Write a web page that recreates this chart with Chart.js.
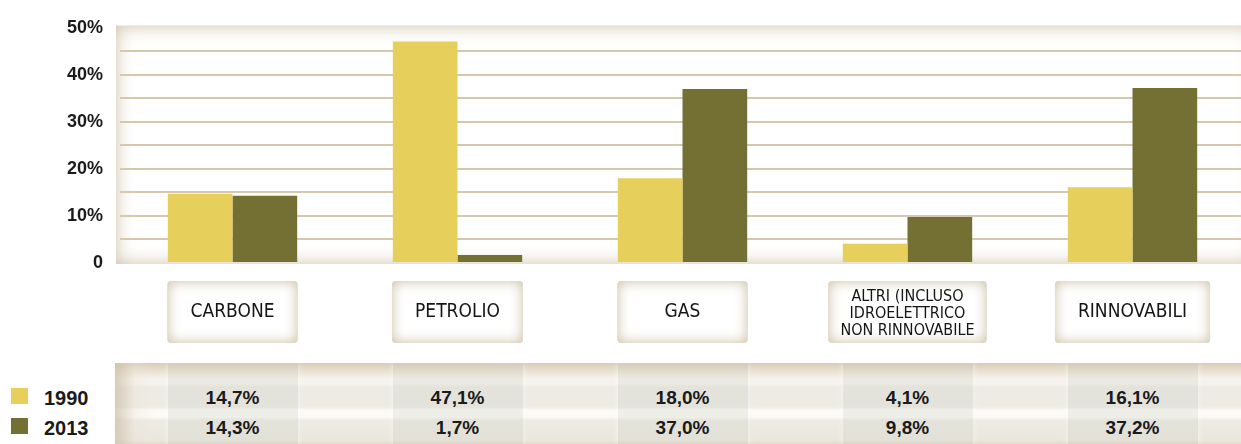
<!DOCTYPE html>
<html>
<head>
<meta charset="utf-8">
<script src="https://cdn.jsdelivr.net/npm/chart.js@4/dist/chart.umd.min.js"></script>
<style>
    html, body { margin: 0; padding: 0; background: #fff; width: 1241px; height: 444px; overflow: hidden; }
    #chartWrap { position: absolute; left: 0; top: 0; width: 1245px; height: 360px; }
    #table {
        position: absolute; left: 115px; top: 363px; width: 1130px; height: 84px; overflow: hidden;
        background: linear-gradient(to bottom,
            #d8ccb5 0px, #eae3d5 9px, #f6f3ed 16px, #f6f3ed 21px, #edebe4 24px, #edebe4 44px,
            #fbfaf7 47px, #fbfaf7 54px, #edebe4 57px, #ebe7df 77px, #dcd1bd 84px);
    }
    #table .edge {
        position: absolute; left: 0; top: 0; width: 40px; height: 100%;
        background: linear-gradient(to right, rgba(205,192,168,0.75), rgba(235,228,215,0.3) 20px, rgba(255,255,255,0) 40px);
    }
    .col {
        position: absolute; top: 0; height: 100%;
        background: rgba(196, 200, 188, 0.22);
        box-shadow: -2px 0 5px rgba(255,255,255,0.3), 2px 0 5px rgba(255,255,255,0.3);
    }
    .val, .leg {
        position: absolute; font-family: "Liberation Sans", Arial, sans-serif; font-weight: bold;
        color: #1a1a1a; white-space: nowrap;
    }
    .val { font-size: 19px; transform: translate(-50%, -50%); }
    .leg { font-size: 20px; left: 44px; transform: translateY(-50%); }
    .swatch { position: absolute; left: 11px; width: 17px; height: 16px; }
</style>
</head>
<body>
<div id="chartWrap"><canvas id="energyChart" width="1245" height="360"></canvas></div>
<div id="table"><div class="edge"></div></div>
<div id="legend"></div>
<script>
// dati
const categories = [
    ['CARBONE'],
    ['PETROLIO'],
    ['GAS'],
    ['ALTRI (INCLUSO', 'IDROELETTRICO', 'NON RINNOVABILE'],
    ['RINNOVABILI']
];
const years = ['1990', '2013'];
const values1990 = [14.7, 47.1, 18.0, 4.1, 16.1];
const values2013 = [14.3, 1.7, 37.0, 9.8, 37.2];
const yTickLabels = ['0', '10%', '20%', '30%', '40%', '50%'];

const colors = ['#e7cf5b', '#747034'];
const labelFont = '"Liberation Sans Narrow", "DejaVu Sans Condensed", "Roboto Condensed", "Liberation Sans", sans-serif';
const labelSize = lines => (lines.length > 1 ? 16 : 19);

function innerShadow(ctx, x, y, w, h, r, fill, shade, blur) {
    ctx.save();
    ctx.beginPath();
    ctx.roundRect(x, y, w, h, r);
    ctx.clip();
    ctx.fillStyle = fill;
    ctx.fillRect(x, y, w, h);
    ctx.beginPath();
    ctx.rect(x - 200, y - 200, w + 400, h + 400);
    ctx.roundRect(x, y, w, h, r);
    ctx.shadowColor = shade;
    ctx.shadowBlur = blur;
    ctx.fillStyle = shade;
    ctx.fill('evenodd');
    ctx.restore();
}

// sfondo del pannello e riquadri delle categorie
const panelPlugin = {
    id: 'panel',
    beforeDraw(chart) {
        const { ctx, chartArea: a } = chart;
        innerShadow(ctx, a.left - 4, a.top - 2, chart.width - a.left + 14, a.bottom - a.top + 3, 0, '#ffffff', '#cdbfa6', 18);

        const xs = chart.scales.x;
        ctx.save();
        categories.forEach((lines, i) => {
            ctx.font = labelSize(lines) + 'px ' + labelFont;
            const cx = xs.getPixelForTick(i);
            const tw = Math.max(...lines.map(l => ctx.measureText(l).width));
            const w = Math.max(130, tw + (lines.length > 1 ? 24 : 46));
            innerShadow(ctx, cx - w / 2, a.bottom + 18, w, 62, 4, '#ffffff', '#cbbda2', 13);
        });
        ctx.restore();
    }
};

const chart = new Chart(document.getElementById('energyChart'), {
    type: 'bar',
    data: {
        labels: categories,
        datasets: [
            { label: years[0], data: values1990, backgroundColor: colors[0], categoryPercentage: 0.575, barPercentage: 1 },
            { label: years[1], data: values2013, backgroundColor: colors[1], categoryPercentage: 0.575, barPercentage: 1 }
        ]
    },
    options: {
        responsive: false,
        animation: false,
        layout: { padding: { top: 24, right: 0, bottom: 0, left: 0 } },
        plugins: {
            legend: { display: false },
            tooltip: { enabled: false }
        },
        scales: {
            x: {
                offset: true,
                grid: { display: false, drawTicks: false },
                border: { display: false },
                ticks: {
                    color: '#151515',
                    padding: 34,
                    crossAlign: 'center',
                    font: c => ({ family: labelFont, size: labelSize(categories[c.index] || ['']), lineHeight: 1.05 })
                },
                afterFit(scale) { scale.height = 97; }
            },
            y: {
                min: 0,
                max: 50,
                grid: {
                    drawTicks: false,
                    lineWidth: 2,
                    color: c => (c.tick && (c.tick.value === 0 || c.tick.value === 50)) ? 'rgba(0,0,0,0)' : '#d6c8ae'
                },
                border: { display: false },
                ticks: {
                    stepSize: 5,
                    autoSkip: false,
                    padding: 17,
                    color: '#1a1a1a',
                    font: { family: '"Liberation Sans", Arial, sans-serif', size: 18, weight: 'bold' },
                    callback: v => (v % 10 === 0 ? yTickLabels[v / 10] : '')
                },
                afterFit(scale) { scale.width = 120; }
            }
        }
    },
    plugins: [panelPlugin]
});

// tabella dei valori sotto il grafico
const fmt = v => v.toFixed(1).replace('.', ',') + '%';
const table = document.getElementById('table');
const tableLeft = 115, tableTop = 363;
const rowsY = [398, 428];
categories.forEach((c, i) => {
    const cx = chart.scales.x.getPixelForTick(i);
    const col = document.createElement('div');
    col.className = 'col';
    col.style.left = (cx - 65 - tableLeft) + 'px';
    col.style.width = '130px';
    table.appendChild(col);
    [values1990, values2013].forEach((vals, r) => {
        const t = document.createElement('div');
        t.className = 'val';
        t.textContent = fmt(vals[i]);
        t.style.left = (cx - tableLeft) + 'px';
        t.style.top = (rowsY[r] - tableTop) + 'px';
        table.appendChild(t);
    });
});

const legend = document.getElementById('legend');
years.forEach((y, r) => {
    const sw = document.createElement('div');
    sw.className = 'swatch';
    sw.style.background = colors[r];
    sw.style.top = (rowsY[r] - 10) + 'px';
    legend.appendChild(sw);
    const t = document.createElement('div');
    t.className = 'leg';
    t.textContent = y;
    t.style.top = rowsY[r] + 'px';
    legend.appendChild(t);
});
</script>
</body>
</html>
